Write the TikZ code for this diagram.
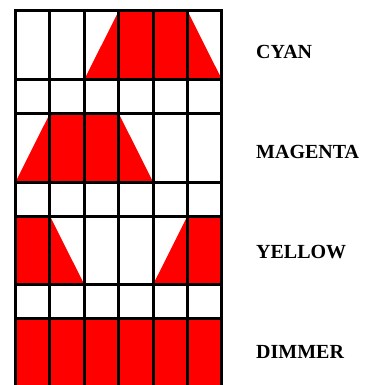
\documentclass[tikz,border=0pt]{standalone}
\usepackage{fontspec}
\setmainfont{Liberation Serif}

\begin{document}
\begin{tikzpicture}[
  x=1pt, y=-1pt,
  gridline/.style={line width=3pt, line cap=rect},
  lamp/.style={fill=red},
  chan/.style={anchor=west, inner sep=0pt, font=\bfseries\fontsize{20}{22}\selectfont}
]
\useasboundingbox (0,0) rectangle (366,385);
% red parts of the channels
\fill[lamp] (118.7,11) -- (187.5,11) -- (221.9,79.5) -- (84.3,79.5) -- cycle;
\fill[lamp] (49.9,113.5) -- (118.7,113.5) -- (153.1,182) -- (15.5,182) -- cycle;
\fill[lamp] (15.5,216) -- (49.9,216) -- (84.3,284.5) -- (15.5,284.5) -- cycle;
\fill[lamp] (187.5,216) -- (221.9,216) -- (221.9,284.5) -- (153.1,284.5) -- cycle;
\fill[lamp] (15.5,318.5) rectangle (221.9,385);
% grid
\foreach \x in {15.5,49.9,84.3,118.7,153.1,187.5,221.9}
  \draw[gridline] (\x,11) -- (\x,386);
\foreach \y in {11,79.5,113.5,182,216,284.5,318.5}
  \draw[gridline] (15.5,\y) -- (221.9,\y);
% labels
\node (cyan) [chan] at (256,52) {CYAN};
\node (magenta) [chan] at (256,152) {MAGENTA};
\node (yellow) [chan] at (256,252) {YELLOW};
\node (dimmer) [chan] at (256,352) {DIMMER};
\end{tikzpicture}
\end{document}
